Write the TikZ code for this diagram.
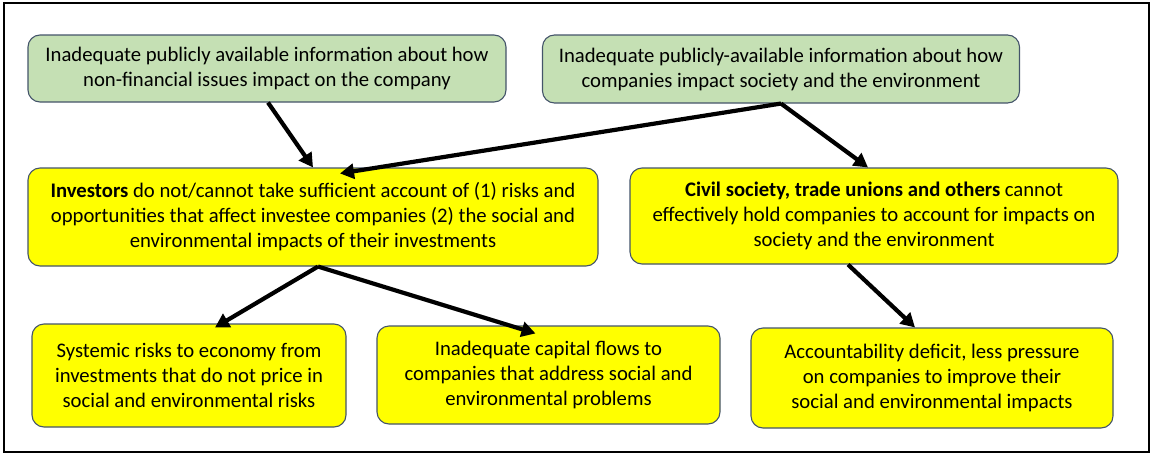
\documentclass[tikz,border=0pt]{standalone}
\usepackage{fontspec}
\setmainfont{Carlito}
\usetikzlibrary{arrows.meta}
\definecolor{boxline}{HTML}{44546A}
\definecolor{infogreen}{HTML}{C5E0B4}
\definecolor{effyellow}{HTML}{FFFF00}
\begin{document}
\begin{tikzpicture}[x=1pt,y=-1pt,
    info/.style={shape=rectangle,rounded corners=12pt,draw=boxline,line width=1.1pt,fill=infogreen,align=center,inner sep=0pt,font=\fontsize{20.7}{25}\selectfont},
    effect/.style={info,fill=effyellow},
    arr/.style={-{Triangle[length=14pt,width=15pt]},line width=4.2pt,black}]
    \useasboundingbox (0,0) rectangle (1153,455);
    \draw[line width=1.5pt] (4,3) rectangle (1149,452);

    \node[info,minimum width=478pt,minimum height=67pt] (N) at (267,68.5) {Inadequate publicly available information about how\\non-financial issues impact on the company};
    \node[info,minimum width=477pt,minimum height=68pt] (S) at (781,69) {Inadequate publicly-available information about how\\companies impact society and the environment};
    \node[effect,minimum width=570pt,minimum height=98pt] (I) at (313,217) {\textbf{Investors} do not/cannot take sufficient account of (1) risks and\\opportunities that affect investee companies (2) the social and\\environmental impacts of their investments};
    \node[effect,minimum width=488pt,minimum height=96pt] (C) at (874,216) {\textbf{Civil society, trade unions and others} cannot\\effectively hold companies to account for impacts on\\society and the environment};
    \node[effect,minimum width=314pt,minimum height=103pt] (R) at (189,375.5) {Systemic risks to economy from\\investments that do not price in\\social and environmental risks};
    \node[effect,minimum width=343pt,minimum height=98pt] (F) at (548.5,375) {Inadequate capital flows to\\companies that address social and\\environmental problems};
    \node[effect,minimum width=362pt,minimum height=100pt] (A) at (932,378) {Accountability deficit, less pressure\\on companies to improve their\\social and environmental impacts};

    \draw[arr] ([xshift=1pt]N.south) -- (I.north);
    \draw[arr] (S.south) -- ([xshift=27pt,yshift=-6pt]I.north);
    \draw[arr] (S.south) -- ([xshift=-6pt]C.north);
    \draw[arr] ([xshift=5pt]I.south) -- ([xshift=26pt,yshift=-4pt]R.north);
    \draw[arr] ([xshift=5pt]I.south) -- ([xshift=-13pt,yshift=-8pt]F.north);
    \draw[arr] ([xshift=-26pt]C.south) -- ([xshift=-17pt]A.north);
\end{tikzpicture}
\end{document}
